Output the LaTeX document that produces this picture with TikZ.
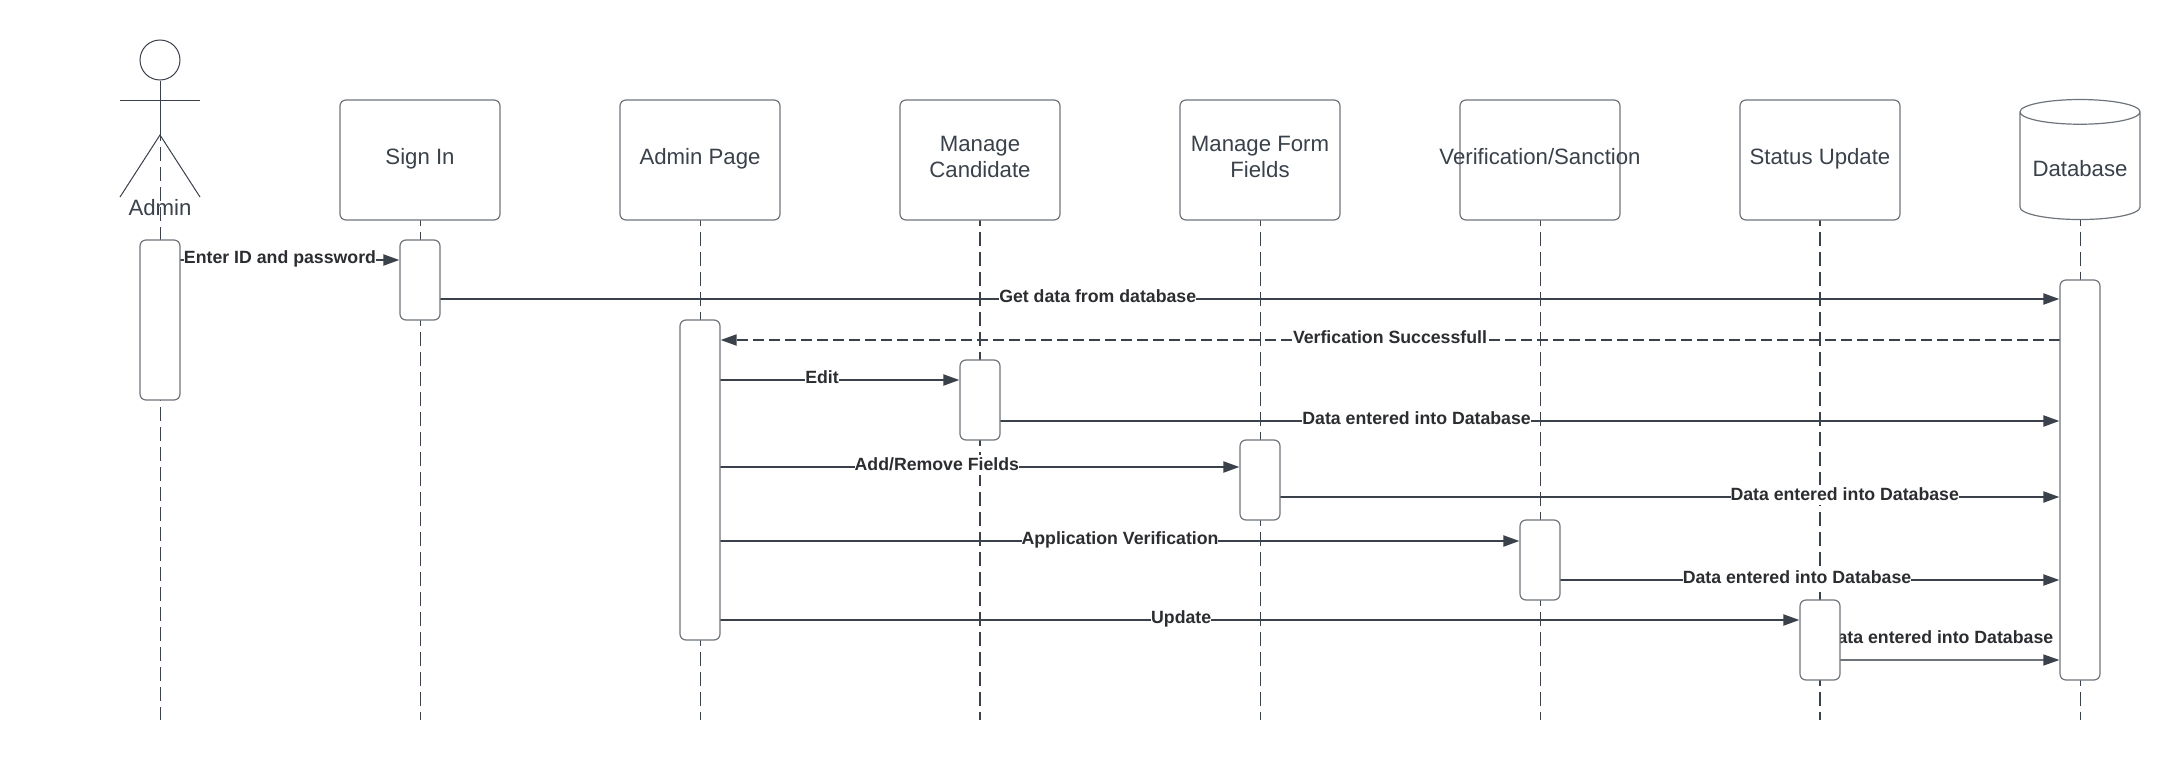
\documentclass[tikz,border=0pt]{standalone}
\usepackage{fontspec}
\setmainfont{Liberation Sans}
\usepackage{tikz}
\usetikzlibrary{arrows.meta,positioning,shapes.geometric,backgrounds}
\definecolor{inkdark}{HTML}{3A414A}
\definecolor{inkedge}{HTML}{6F747B}
\definecolor{inklabel}{HTML}{2B2D30}

\begin{document}
\begin{tikzpicture}[
    x=0.5pt, y=-0.5pt,
    node distance=10pt and 60pt,
    block/.style={rectangle, rounded corners=3pt, draw=inkedge, line width=0.6pt, outer sep=0pt, fill=white, align=center, text=inkdark, font=\fontsize{11.1}{13}\selectfont, minimum width=80pt, minimum height=60pt},
    store/.style={cylinder, shape border rotate=90, aspect=0.26, draw=inkedge, line width=0.6pt, outer sep=0pt, fill=white, text=inkdark, font=\fontsize{11.1}{13}\selectfont, minimum width=60pt, minimum height=60pt, inner sep=0pt},
    active/.style={rectangle, rounded corners=3pt, draw=inkedge, line width=0.6pt, outer sep=0pt, fill=white, minimum width=20pt},
    figure/.style={draw=inkdark, line width=0.5pt},
    lifeline/.style={draw=inkdark, line width=0.5pt, dash pattern=on 7pt off 3pt, dash phase=4pt},
    lifelinebold/.style={lifeline, line width=1pt},
    msg/.style={-{Triangle[length=8pt,width=5.5pt]}, draw=inkdark, line width=1pt, shorten >=0.3pt},
    msgdash/.style={msg, dash pattern=on 5.5pt off 2.5pt},
    msgthin/.style={-{Triangle[length=8pt,width=5.5pt,color=inkdark]}, draw=inkedge, line width=0.6pt, shorten >=0.3pt},
    msglabel/.style={fill=white, text=inklabel, font=\fontsize{8.86}{10}\bfseries\selectfont, text height=0.72em, text depth=0.2em, inner xsep=0pt, inner ysep=0.5pt}
]
\useasboundingbox (0,0) rectangle (2180,760);

% header row
\node[block] (signin) at (420,160) {\raisebox{3.4pt}{Sign In}};
\node[block, right=of signin] (adminpage) {\raisebox{3.4pt}{Admin Page}};
\node[block, right=of adminpage] (candidate) {\raisebox{3.2pt}{\shortstack{Manage\\Candidate}}};
\node[block, right=of candidate] (formfields) {\raisebox{3.2pt}{\shortstack{Manage Form\\Fields}}};
\node[block, right=of formfields] (verify) {\raisebox{3.4pt}{\makebox[0pt][c]{Verification/Sanction}}};
\node[block, right=of verify] (status) {\raisebox{3.4pt}{Status Update}};
\node[store] (database) at (2080,166) {\raisebox{-5pt}[0pt][0pt]{Database}};

% stick figure
\node[circle, draw=inkdark, line width=0.5pt, minimum size=20pt, inner sep=0pt] (head) at (160,60) {};
\coordinate (hip) at (160,135);
\coordinate (armL) at (120,100);
\coordinate (armR) at (200,100);
\coordinate (legL) at (120,197);
\coordinate (legR) at (200,197);
\draw[figure] (head.south) -- (hip);
\draw[figure] (armL) -- (armR);
\draw[figure] (legL) -- (hip) -- (legR);

% activation bars
\node[active, minimum height=80pt] (adminAct) at (160,320) {};
\node[active, minimum height=40pt, below=of signin] (signinAct) {};
\node[active, minimum height=160pt] (pageAct) at (700,480) {};
\node[active, minimum height=40pt] (candidateAct) at (980,400) {};
\node[active, minimum height=40pt] (fieldsAct) at (1260,480) {};
\node[active, minimum height=40pt] (verifyAct) at (1540,560) {};
\node[active, minimum height=40pt] (statusAct) at (1820,640) {};
\node[active, minimum height=200pt] (databaseAct) at (2080,480) {};

% message rows
\coordinate (endrow) at (0,720);
\coordinate (rowA) at (0,260);
\coordinate (rowB) at (0,299);
\coordinate (rowC) at (0,340);
\coordinate (rowD) at (0,380);
\coordinate (rowE) at (0,421);
\coordinate (rowF) at (0,467);
\coordinate (rowG) at (0,497);
\coordinate (rowH) at (0,541);
\coordinate (rowI) at (0,580);
\coordinate (rowJ) at (0,620);
\coordinate (rowK) at (0,660);

\begin{scope}[on background layer]
\node[text=inkdark, font=\fontsize{11.1}{13}\selectfont] (adminlabel) at (160,208) {Admin};
\draw[lifeline] (hip) -- (hip |- endrow);
\draw[lifeline] (signin.south) -- (signin |- endrow);
\draw[lifeline] (adminpage.south) -- (adminpage |- endrow);
\draw[lifelinebold] (candidate.south) -- (candidate |- endrow);
\draw[lifeline] (formfields.south) -- (formfields |- endrow);
\draw[lifeline] (verify.south) -- (verify |- endrow);
\draw[lifelinebold] (status.south) -- (status |- endrow);
\draw[lifeline] (database.south) -- (database |- endrow);

\draw[msg] (adminAct.east |- rowA) -- node[msglabel, pos=0.4545, yshift=1pt] {Enter ID and password} (signinAct.west |- rowA);
\draw[msg] (signinAct.east |- rowB) -- node[msglabel, pos=0.406, yshift=1pt] {Get data from database} (databaseAct.west |- rowB);
\draw[msgdash] (databaseAct.west |- rowC) -- node[msglabel, pos=0.5, yshift=1pt] {Verfication Successfull} (pageAct.east |- rowC);
\draw[msg] (pageAct.east |- rowD) -- node[msglabel, pos=0.425, yshift=1pt] {Edit} (candidateAct.west |- rowD);
\draw[msg] (candidateAct.east |- rowE) -- node[msglabel, pos=0.393, yshift=1pt] {Data entered into Database} (databaseAct.west |- rowE);
\draw[msg] (pageAct.east |- rowF) -- node[msglabel, pos=0.417, yshift=1pt] {Add/Remove Fields} (fieldsAct.west |- rowF);
\draw[msg] (fieldsAct.east |- rowG) -- node[msglabel, pos=0.724, yshift=1pt] {Data entered into Database} (databaseAct.west |- rowG);
\draw[msg] (pageAct.east |- rowH) -- node[msglabel, pos=0.5, yshift=1pt] {Application Verification} (verifyAct.west |- rowH);
\draw[msg] (verifyAct.east |- rowI) -- node[msglabel, pos=0.474, yshift=1pt] {Data entered into Database} (databaseAct.west |- rowI);
\draw[msg] (pageAct.east |- rowJ) -- node[msglabel, pos=0.427, yshift=1pt] {Update} (statusAct.west |- rowJ);
\draw[msgthin] (statusAct.east |- rowK) -- node[msglabel, pos=0.45, yshift=11pt] {Data entered into Database} (databaseAct.west |- rowK);
\end{scope}
\end{tikzpicture}
\end{document}
